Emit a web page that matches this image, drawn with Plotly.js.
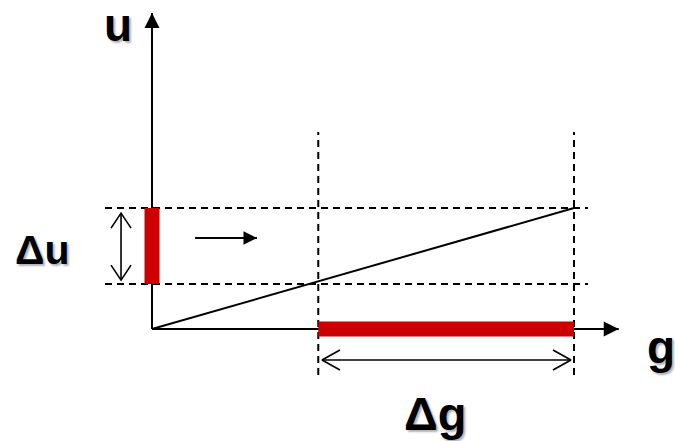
<!DOCTYPE html>
<html>
<head>
<meta charset="utf-8">
<script src="https://cdn.plot.ly/plotly-3.0.1.min.js"></script>
<style>html,body{margin:0;padding:0;background:#fff;}#chart{width:675px;height:441px;}</style>
</head>
<body>
<div id="chart"></div>
<script>
// ---- diagram values (data units: g horizontal, u vertical) ----
const gMarks = [1.97, 5.0];          // g1, g2 (dashed verticals)
const uMarks = [1.86, 5.0];          // u1, u2 (dashed horizontals)
const axisEnds = [5.53, 13.06];      // g-axis end, u-axis end
const dashVSpan = [-1.90, 8.14];     // u extent of dashed verticals
const dashHSpan = [-0.557, 5.166];   // g extent of dashed horizontals
const duArrowG = -0.367;             // g position of the Δu double arrow
const duArrowSpan = [2.02, 4.79];    // u extent of Δu double arrow
const dgArrowU = -1.28;              // u position of the Δg double arrow
const dgArrowSpan = [2.014, 4.964];  // g extent of Δg double arrow
const shiftArrowU = 3.76;            // u of the small shift arrow
const shiftArrowSpan = [0.51, 1.244];// g extent of the small shift arrow
const labels = ['u', 'Δu', 'g', 'Δg'];

// ---- scale (px per data unit) ----
const originPx = [152, 329];
const kx = 84.4, ky = 24.2;
const W = 675, H = 441;
const gx = px => (px - originPx[0]) / kx;
const uy = py => (originPx[1] - py) / ky;

const RED = '#cc0000';
const traces = [];

// axes lines
traces.push({x: [0, axisEnds[0]], y: [0, 0], mode: 'lines', line: {color: '#000', width: 2}});
traces.push({x: [0, 0], y: [0, axisEnds[1]], mode: 'lines', line: {color: '#000', width: 2}});

// dashed verticals
gMarks.forEach(g => traces.push({x: [g, g], y: dashVSpan, mode: 'lines',
  line: {color: '#000', width: 2, dash: '7px,5px'}}));
// dashed horizontals
uMarks.forEach(u => traces.push({x: dashHSpan, y: [u, u], mode: 'lines',
  line: {color: '#000', width: 2, dash: '7px,5px'}}));

// diagonal line
traces.push({x: [0, gMarks[1]], y: [0, uMarks[1]], mode: 'lines', line: {color: '#000', width: 2}});

// double arrows (shaft + open chevrons)
function chevronV(g, uTip, dir, along, across) { // dir +1 tip pointing up
  const du = along / ky * dir, dg = across / kx;
  return {x: [g - dg, g, g + dg], y: [uTip - du, uTip, uTip - du]};
}
function chevronH(u, gTip, dir, along, across) { // dir +1 tip pointing right
  const dg = along / kx * dir, du = across / ky;
  return {x: [gTip - dg, gTip, gTip - dg], y: [u + du, u, u - du]};
}
function addDouble(xs, ys, c1, c2) {
  const x = [...xs, null, ...c1.x, null, ...c2.x];
  const y = [...ys, null, ...c1.y, null, ...c2.y];
  traces.push({x, y, mode: 'lines', line: {color: '#000', width: 1.6}, connectgaps: false});
}
addDouble([duArrowG, duArrowG], duArrowSpan,
  chevronV(duArrowG, duArrowSpan[1], 1, 15, 10),
  chevronV(duArrowG, duArrowSpan[0], -1, 15, 10));
addDouble(dgArrowSpan, [dgArrowU, dgArrowU],
  chevronH(dgArrowU, dgArrowSpan[0], -1, 18, 10),
  chevronH(dgArrowU, dgArrowSpan[1], 1, 18, 10));

// small shift arrow shaft
traces.push({x: shiftArrowSpan, y: [shiftArrowU, shiftArrowU], mode: 'lines', line: {color: '#000', width: 2}});

// red bars
traces.push({x: [0, 0], y: uMarks, mode: 'lines', line: {color: RED, width: 15}});
traces.push({x: gMarks, y: [0, 0], mode: 'lines', line: {color: RED, width: 15}});

const shadow = '2px 2px 2px rgba(0,0,0,0.3)';
const lab = (text, px, py, size) => ({
  text, x: gx(px), y: uy(py), xref: 'x', yref: 'y', showarrow: false,
  xanchor: 'center', yanchor: 'middle',
  font: {family: 'Arial, "Liberation Sans", sans-serif', size, color: '#000', weight: 700, shadow}
});
const head = (xTip, yTip, xTail, yTail, size) => ({
  text: '', x: xTip, y: yTip, ax: xTail, ay: yTail, xref: 'x', yref: 'y', axref: 'x', ayref: 'y',
  showarrow: true, arrowhead: 2, arrowwidth: 2, arrowsize: size, arrowcolor: '#000', standoff: 0
});

const annotations = [
  lab(labels[0], 118, 25, 46),
  lab(labels[1], 42, 250, 41),
  lab(labels[2], 661, 347, 46),
  lab(labels[3], 435, 413, 47),
  head(axisEnds[0], 0, axisEnds[0] - 0.3, 0, 1.5),
  head(0, axisEnds[1], 0, axisEnds[1] - 1, 1.5),
  head(shiftArrowSpan[1], shiftArrowU, shiftArrowSpan[0], shiftArrowU, 1.35)
];

const layout = {
  width: W, height: H,
  margin: {l: 0, r: 0, t: 0, b: 0, pad: 0},
  paper_bgcolor: '#fff', plot_bgcolor: '#fff',
  showlegend: false, hovermode: false,
  xaxis: {range: [gx(0), gx(W)], visible: false, fixedrange: true},
  yaxis: {range: [uy(H), uy(0)], visible: false, fixedrange: true},
  annotations
};
Plotly.newPlot('chart', traces, layout, {displayModeBar: false, staticPlot: true});
</script>
</body>
</html>
